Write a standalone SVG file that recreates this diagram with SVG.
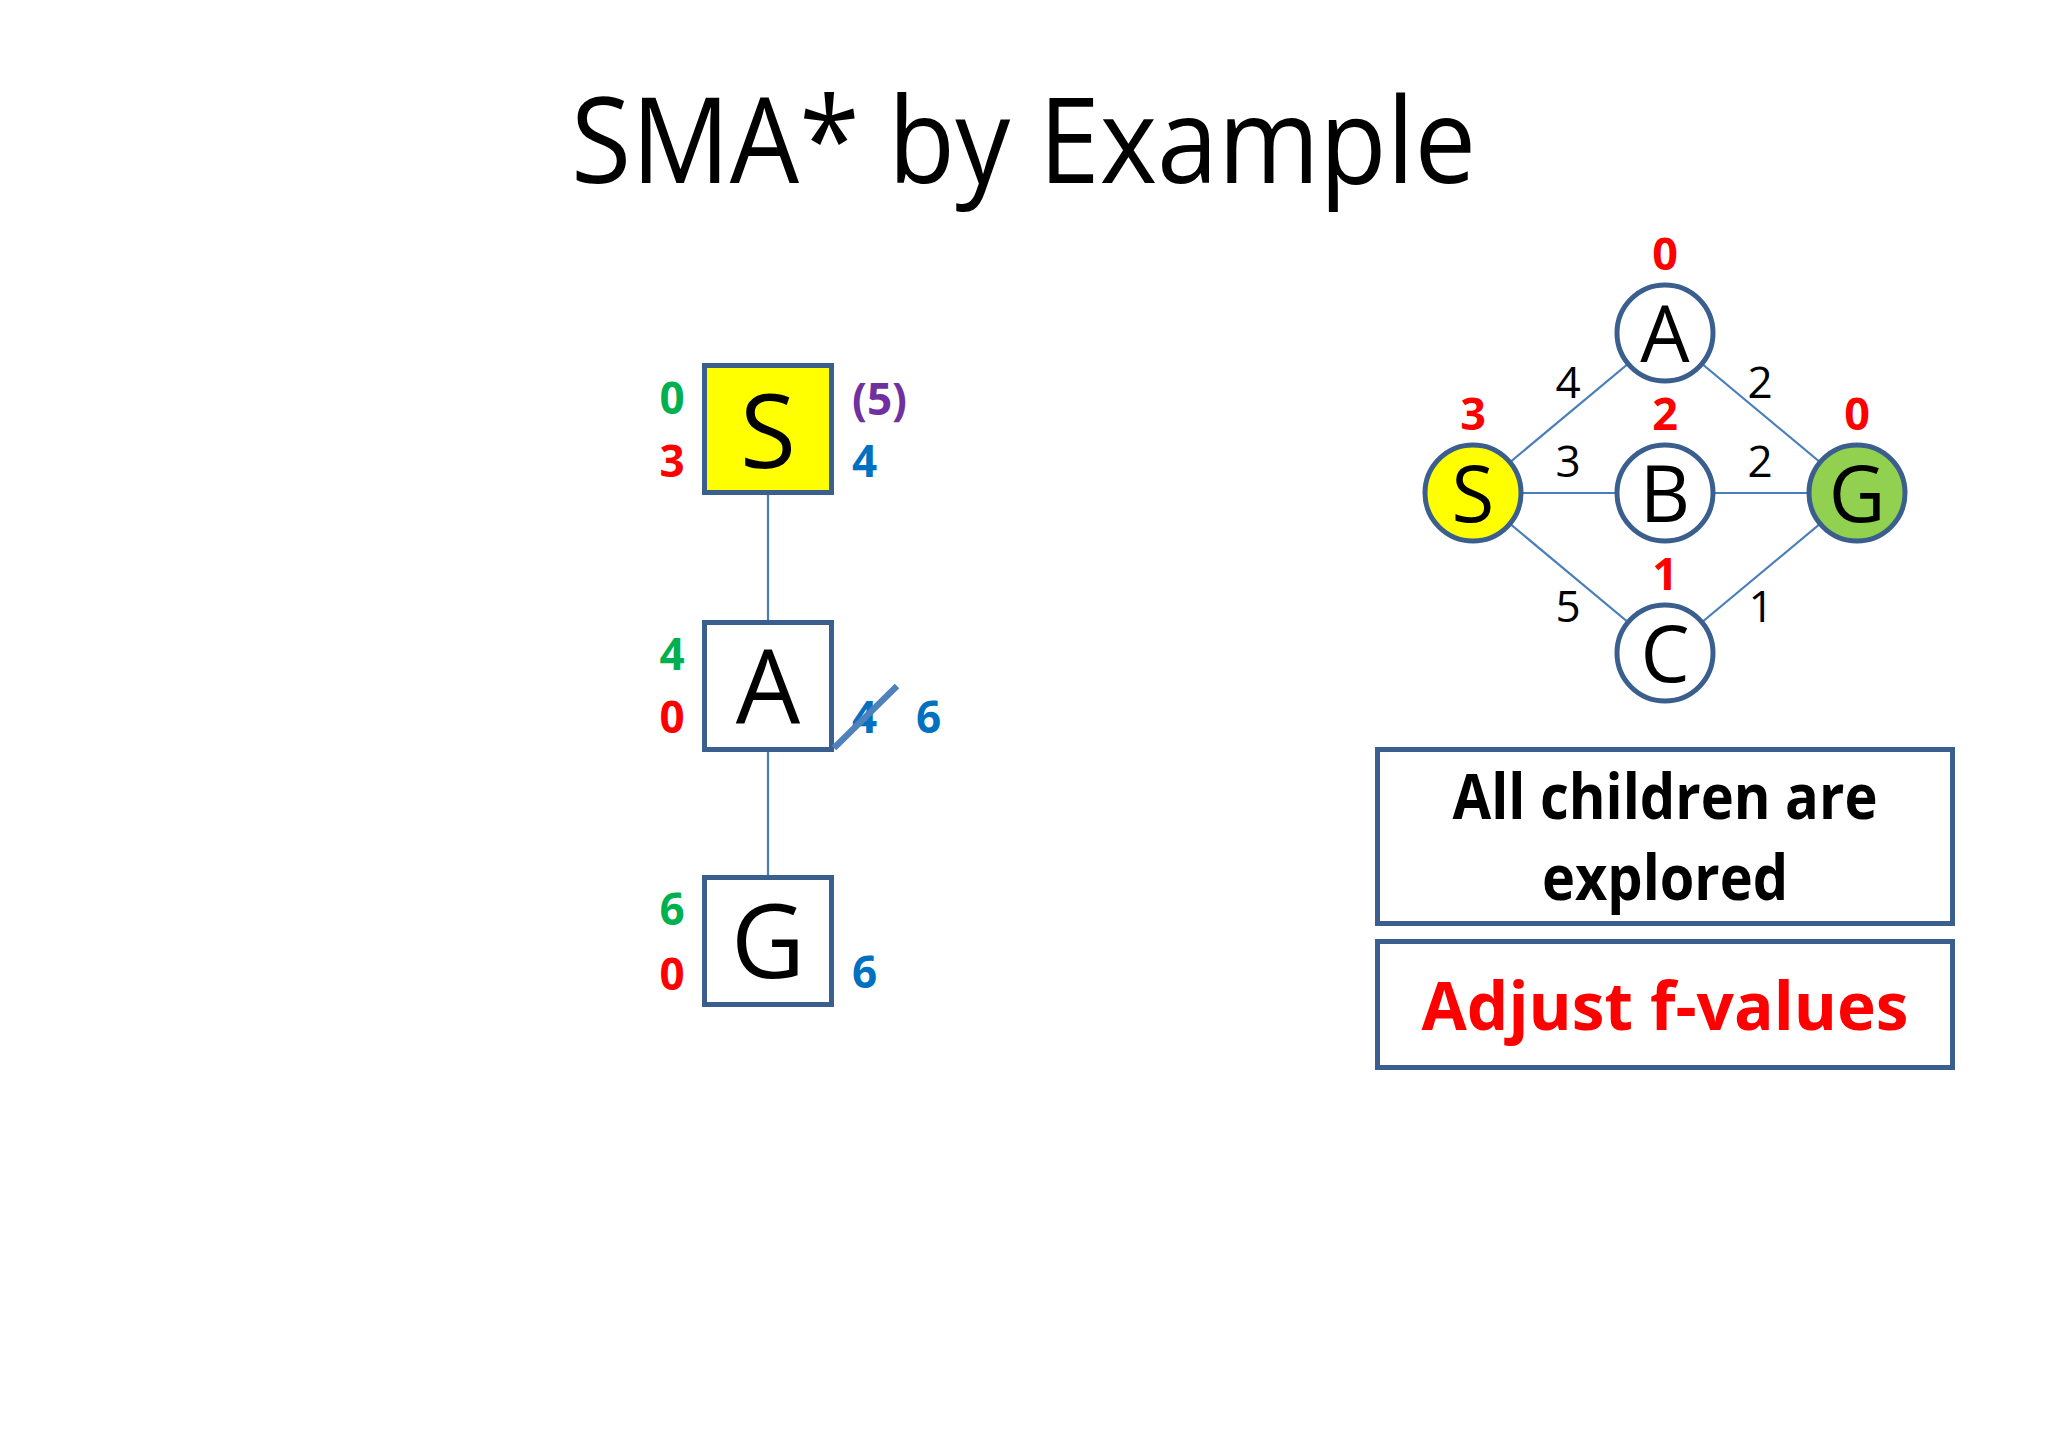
<svg xmlns="http://www.w3.org/2000/svg" width="2048" height="1434" viewBox="0 0 2048 1434">
<style>
text{font-family:"Open Sans","Liberation Sans",sans-serif}
.box{fill:#fff;stroke:#3A5F8E;stroke-width:5}
.edge{stroke:#4A7EBB;stroke-width:2.2;fill:none}
.big{font-size:102px;fill:#000;text-anchor:middle}
.node{font-size:78px;fill:#000;text-anchor:middle}
.lbl{font-size:44px;font-weight:bold}
.mid{text-anchor:middle}
.g{fill:#00B050}.r{fill:#FF0000}.p{fill:#7030A0}.b{fill:#0070C0}
.w{font-size:44px;fill:#000;text-anchor:middle}
.rl{font-size:45px;font-weight:bold;fill:#FF0000;text-anchor:middle}
</style>
<rect width="2048" height="1434" fill="#fff"/>
<text x="571" y="183" font-size="119" fill="#000" textLength="905" lengthAdjust="spacingAndGlyphs">SMA* by Example</text>

<g id="connectors">
<line class="edge" x1="768" y1="493" x2="768" y2="622"/>
<line class="edge" x1="768" y1="750" x2="768" y2="877"/>
<line class="edge" x1="1473" y1="493" x2="1665" y2="333"/>
<line class="edge" x1="1665" y1="333" x2="1857" y2="493"/>
<line class="edge" x1="1473" y1="493" x2="1857" y2="493"/>
<line class="edge" x1="1473" y1="493" x2="1665" y2="653"/>
<line class="edge" x1="1665" y1="653" x2="1857" y2="493"/>
</g>

<g id="tree-S">
<rect class="box" x="704.5" y="365.5" width="127" height="127" style="fill:#FFFF00"/>
<text class="big" x="768" y="468">S</text>
<text class="lbl g mid" x="672" y="414">0</text>
<text class="lbl r mid" x="672" y="477">3</text>
<text class="lbl p" x="852" y="415">(5)</text>
<text class="lbl b" x="852" y="477">4</text>
</g>

<g id="tree-A">
<rect class="box" x="704.5" y="622.5" width="127" height="127"/>
<text class="big" x="768" y="723">A</text>
<text class="lbl g mid" x="672" y="670">4</text>
<text class="lbl r mid" x="672" y="733">0</text>
<text class="lbl b" x="852" y="733">4</text>
<line x1="834" y1="748" x2="897" y2="686" stroke="#4F81BD" stroke-width="6.5"/>
<text class="lbl b" x="916" y="733">6</text>
</g>

<g id="tree-G">
<rect class="box" x="704.5" y="877.5" width="127" height="127"/>
<text class="big" x="768" y="978">G</text>
<text class="lbl g mid" x="672" y="925">6</text>
<text class="lbl r mid" x="672" y="990">0</text>
<text class="lbl b" x="852" y="988">6</text>
</g>

<g id="graph-A">
<circle class="box" cx="1665" cy="333" r="48"/>
<text class="node" x="1665" y="362">A</text>
<text class="rl" x="1665" y="270">0</text>
</g>
<g id="graph-S">
<circle class="box" cx="1473" cy="493" r="48" style="fill:#FFFF00"/>
<text class="node" x="1473" y="522">S</text>
<text class="rl" x="1473" y="430">3</text>
</g>
<g id="graph-B">
<circle class="box" cx="1665" cy="493" r="48"/>
<text class="node" x="1665" y="522">B</text>
<text class="rl" x="1665" y="430">2</text>
</g>
<g id="graph-G">
<circle class="box" cx="1857" cy="493" r="48" style="fill:#92D050"/>
<text class="node" x="1857" y="522">G</text>
<text class="rl" x="1857" y="430">0</text>
</g>
<g id="graph-C">
<circle class="box" cx="1665" cy="653" r="48"/>
<text class="node" x="1665" y="682">C</text>
<text class="rl" x="1665" y="590">1</text>
</g>

<g id="edge-labels">
<text class="w" x="1568" y="398">4</text>
<text class="w" x="1760" y="398">2</text>
<text class="w" x="1568" y="477">3</text>
<text class="w" x="1760" y="477">2</text>
<text class="w" x="1568" y="622">5</text>
<text class="w" x="1761" y="622">1</text>
</g>

<g id="note-1">
<rect class="box" x="1377.5" y="749.5" width="575" height="174"/>
<text x="1665" y="819" font-size="62" font-weight="bold" fill="#000" text-anchor="middle" textLength="425" lengthAdjust="spacingAndGlyphs">All children are</text>
<text x="1665" y="900" font-size="62" font-weight="bold" fill="#000" text-anchor="middle" textLength="246" lengthAdjust="spacingAndGlyphs">explored</text>
</g>
<g id="note-2">
<rect class="box" x="1377.5" y="941.5" width="575" height="126"/>
<text x="1665" y="1030" font-size="66" font-weight="bold" fill="#FF0000" text-anchor="middle" textLength="487" lengthAdjust="spacingAndGlyphs">Adjust f-values</text>
</g>
</svg>
